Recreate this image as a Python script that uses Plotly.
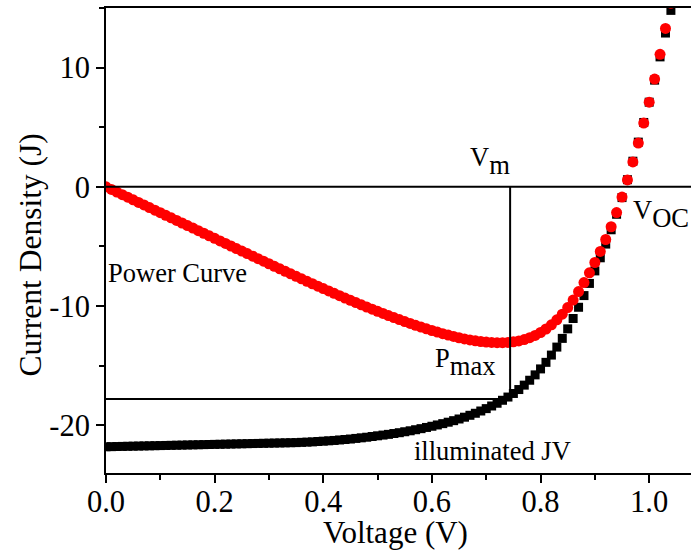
import plotly.graph_objects as go

# ---- data ----
voltage = [0.00, 0.01, 0.02, 0.03, 0.04, 0.05, 0.06, 0.07, 0.08, 0.09,
           0.10, 0.11, 0.12, 0.13, 0.14, 0.15, 0.16, 0.17, 0.18, 0.19,
           0.20, 0.21, 0.22, 0.23, 0.24, 0.25, 0.26, 0.27, 0.28, 0.29,
           0.30, 0.31, 0.32, 0.33, 0.34, 0.35, 0.36, 0.37, 0.38, 0.39,
           0.40, 0.41, 0.42, 0.43, 0.44, 0.45, 0.46, 0.47, 0.48, 0.49,
           0.50, 0.51, 0.52, 0.53, 0.54, 0.55, 0.56, 0.57, 0.58, 0.59,
           0.60, 0.61, 0.62, 0.63, 0.64, 0.65, 0.66, 0.67, 0.68, 0.69,
           0.70, 0.71, 0.72, 0.73, 0.74, 0.75, 0.76, 0.77, 0.78, 0.79,
           0.80, 0.81, 0.82, 0.83, 0.84, 0.85, 0.86, 0.87, 0.88, 0.89,
           0.90, 0.91, 0.92, 0.93, 0.94, 0.95, 0.96, 0.97, 0.98, 0.99,
           1.00, 1.01, 1.02, 1.03, 1.04]

current_density = [-21.80, -21.79, -21.78, -21.77, -21.76, -21.75, -21.74, -21.73, -21.72, -21.71,
                   -21.70, -21.69, -21.68, -21.67, -21.66, -21.65, -21.64, -21.63, -21.62, -21.61,
                   -21.60, -21.59, -21.58, -21.57, -21.56, -21.55, -21.54, -21.53, -21.52, -21.51,
                   -21.50, -21.49, -21.48, -21.47, -21.46, -21.45, -21.43, -21.41, -21.39, -21.36,
                   -21.33, -21.30, -21.27, -21.23, -21.19, -21.15, -21.10, -21.05, -21.00, -20.94,
                   -20.88, -20.82, -20.76, -20.69, -20.62, -20.54, -20.46, -20.37, -20.28, -20.18,
                   -20.08, -19.97, -19.86, -19.74, -19.61, -19.47, -19.32, -19.16, -18.99, -18.80,
                   -18.60, -18.38, -18.15, -17.90, -17.63, -17.33, -17.00, -16.63, -16.22, -15.77,
                   -15.27, -14.72, -14.11, -13.44, -12.71, -11.91, -11.04, -10.10, -9.12, -8.10,
                   -7.05, -5.95, -4.80, -3.60, -2.30, -0.90, 0.60, 2.15, 3.75, 5.40,
                   7.10, 8.95, 10.90, 12.90, 14.80]

power = [0.000, -0.218, -0.436, -0.653, -0.870, -1.088, -1.304, -1.521, -1.738, -1.954,
         -2.170, -2.386, -2.602, -2.817, -3.032, -3.248, -3.462, -3.677, -3.892, -4.106,
         -4.320, -4.534, -4.748, -4.961, -5.174, -5.388, -5.600, -5.813, -6.026, -6.238,
         -6.450, -6.662, -6.874, -7.085, -7.296, -7.508, -7.715, -7.922, -8.128, -8.330,
         -8.532, -8.733, -8.933, -9.129, -9.324, -9.518, -9.706, -9.894, -10.080, -10.261,
         -10.440, -10.618, -10.795, -10.966, -11.135, -11.297, -11.458, -11.611, -11.762, -11.906,
         -12.048, -12.182, -12.313, -12.436, -12.550, -12.656, -12.751, -12.837, -12.913, -12.972,
         -13.020, -13.050, -13.068, -13.067, -13.046, -13.000, -12.920, -12.805, -12.652, -12.458,
         -12.216, -11.923, -11.570, -11.155, -10.676, -10.124, -9.494, -8.787, -8.026, -7.209,
         -6.345, -5.415, -4.416, -3.348, -2.162, -0.855, 0.576, 2.086, 3.675, 5.346,
         7.100, 9.040, 11.118, 13.287, 15.392]

v_max_power = 0.744   # V_m
j_max_power = -17.8   # J_m

x_tick_vals = [0.0, 0.2, 0.4, 0.6, 0.8, 1.0]
x_tick_text = ["0.0", "0.2", "0.4", "0.6", "0.8", "1.0"]
y_tick_vals = [-20, -10, 0, 10]
y_tick_text = ["-20", "-10", "0", "10"]

FONT = "Liberation Serif, Times New Roman, serif"
ANN = 26.5
BIG = 38  # annotation size so that <sub> (70%) renders at about 26.5 px
TICK = 30.5
TITLE = 31


def sub_label(main, sub):
    return '<span style="font-size:%spx">%s</span><sub>%s</sub>' % (ANN, main, sub)


fig = go.Figure()
fig.add_trace(go.Scatter(
    x=voltage, y=current_density, mode="markers", name="illuminated JV",
    marker=dict(symbol="square", size=9, color="black", line=dict(width=0)),
    cliponaxis=True))
fig.add_trace(go.Scatter(
    x=voltage, y=power, mode="markers", name="Power Curve",
    marker=dict(symbol="circle", size=11, color="#ff0000", line=dict(width=0)),
    cliponaxis=True))

line_style = dict(color="black", width=2)
fig.add_shape(type="line", xref="paper", yref="y", x0=0, x1=1, y0=0, y1=0,
              line=line_style, layer="above")
fig.add_shape(type="line", xref="x", yref="y", x0=v_max_power, x1=v_max_power,
              y0=0, y1=j_max_power, line=line_style, layer="above")
fig.add_shape(type="line", xref="x", yref="y", x0=0, x1=v_max_power,
              y0=j_max_power, y1=j_max_power, line=line_style, layer="above")


def ann(text, x, y, size=ANN, xanchor="left", xref="x", yref="y", **kw):
    fig.add_annotation(text=text, x=x, y=y, xref=xref, yref=yref, showarrow=False,
                       xanchor=xanchor, yanchor="middle",
                       font=dict(family=FONT, size=size, color="black"), **kw)


ann(sub_label("V", "m"), 0.666, 2.2, size=BIG)
ann(sub_label("V", "OC"), 0.966, -2.3, size=BIG)
ann("Power Curve", 0.0, -7.23)
ann(sub_label("P", "max"), 0.602, -14.7, size=BIG)
ann("illuminated JV", 0.563, -22.16)
ann(sub_label("J", "m"), -0.018, -17.8, size=BIG, xanchor="right")
ann(sub_label("J", "SC"), -0.031, -22.5, size=BIG, xanchor="right")

fig.add_annotation(text="Voltage (V)", xref="paper", yref="paper", x=0.495, y=-0.129,
                   showarrow=False, xanchor="center", yanchor="middle",
                   font=dict(family=FONT, size=TITLE, color="black"))
fig.add_annotation(text="Current Density (J)", xref="paper", yref="paper", x=-0.13, y=0.47,
                   showarrow=False, xanchor="center", yanchor="middle", textangle=-90,
                   font=dict(family=FONT, size=TITLE + 0.5, color="black"))

fig.update_layout(
    width=691, height=552,
    margin=dict(l=106, r=0, t=8, b=79),
    paper_bgcolor="white", plot_bgcolor="white",
    showlegend=False,
    font=dict(family=FONT, color="black"),
    xaxis=dict(range=[0, 1.077], showgrid=False, zeroline=False,
               showline=True, linecolor="black", linewidth=2, mirror=True,
               ticks="outside", ticklen=8, tickwidth=2, tickcolor="black",
               tickvals=x_tick_vals, ticktext=x_tick_text, ticklabelstandoff=-8,
               tickfont=dict(family=FONT, size=TICK, color="black"),
               minor=dict(dtick=0.1, tick0=0, ticks="outside", ticklen=5,
                          tickwidth=2, tickcolor="black")),
    yaxis=dict(range=[-24, 15], showgrid=False, zeroline=False,
               showline=True, linecolor="black", linewidth=2, mirror=False,
               ticks="outside", ticklen=8, tickwidth=2, tickcolor="black",
               tickvals=y_tick_vals, ticktext=y_tick_text,
               tickfont=dict(family=FONT, size=TICK, color="black"),
               minor=dict(dtick=5, tick0=0, ticks="outside", ticklen=5,
                          tickwidth=2, tickcolor="black")),
)

fig.write_html("out.html", config={"displayModeBar": False},
               post_script="document.body.style.margin='0';")
